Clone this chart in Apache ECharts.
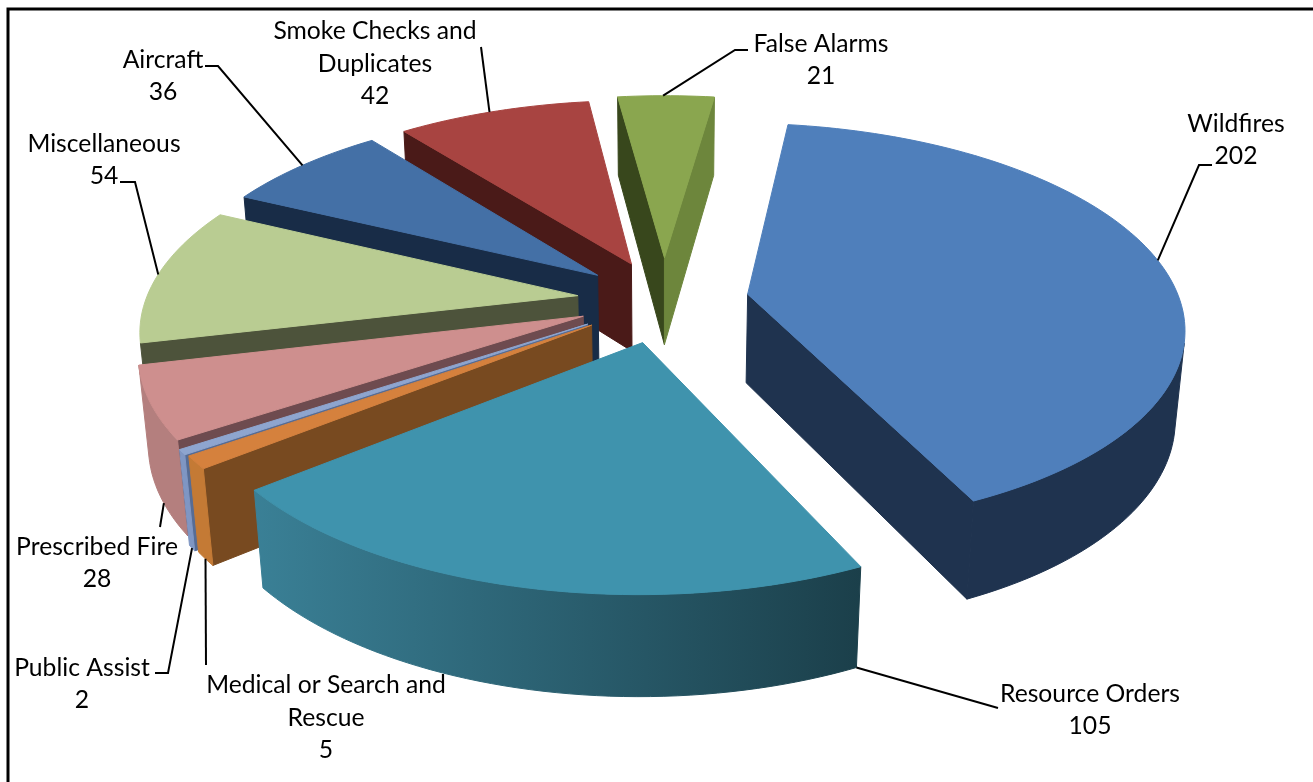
<!DOCTYPE html>
<html><head><meta charset="utf-8">
<style>html,body{margin:0;padding:0;background:#fff}#c{width:1313px;height:782px}</style>
<script src="https://cdn.jsdelivr.net/npm/echarts@6/dist/echarts.min.js"></script>
</head><body><div id="c"></div>
<script>
// clockwise from the False Alarms slice, which straddles 12 o'clock
const categories = ['Wildfires','Resource Orders','Medical or Search and\nRescue','Public Assist','Prescribed Fire','Miscellaneous','Aircraft','Smoke Checks and\nDuplicates','False Alarms'];
const values = [202,105,5,2,28,54,36,42,21];
const explode = [85,92,89,91,87,87,87,87,95];
const drawOrder = [8,7,6,5,4,3,2,0,1];
const colors = [
 {top:'#4f7fbb',a:'#1f334f',b:'#1f334f',o:'#1f334f'},
 {top:'#3f93ad',a:'#1b3f4a',b:'#1b3f4a',o:['#3a8096','#1b3f4a']},
 {top:'#d5813d',a:'#784a20',b:'#784a20',o:'#c47a35'},
 {top:'#8ea5cf',a:'#566c95',b:'#566c95',o:'#7f96c3'},
 {top:'#ce8f8e',a:'#6e4b4f',b:'#6e4b4f',o:'#b47f7e'},
 {top:'#b9cc92',a:'#4d533b',b:'#4d533b',o:'#4d533b'},
 {top:'#4470a6',a:'#182c47',b:'#182c47',o:'#182c47'},
 {top:'#a84441',a:'#4a1a18',b:'#4a1a18',o:'#4a1a18'},
 {top:'#8aa64f',a:'#38471c',b:'#6d863c',o:'#38471c'}
];
// label block centre, leader elbow points, where the leader leaves the slice
const labelLayout = [
 {x:1236,y:140,pts:[[1199,165],[1212,165]],frac:.49,low:false},
 {x:1090,y:710,pts:[[998,708]],frac:.0,low:true},
 {x:326,y:718,pts:[[206,665]],frac:.5,low:true},
 {x:82,y:684,pts:[[168,673],[155,673]],frac:.5,low:true},
 {x:97,y:563,pts:[[160,527]],frac:.42,low:true},
 {x:104,y:160,pts:[[135,182],[120,182]],frac:.5,low:false},
 {x:163,y:76,pts:[[218,66],[205,66]],frac:.5,low:false},
 {x:375,y:64,pts:[[481,47]],frac:.48,low:false},
 {x:821,y:60,pts:[[735,50],[748,50]],frac:.47,low:false}
];
const cam = {R:432,H:102,tilt:27.4,D:2500,cx:664,cy:300,vx:664,start:-7.9};
const font = '24.7px Lato, "Open Sans", sans-serif';

const total = values.reduce((a,b)=>a+b,0);
const ca = Math.cos(cam.tilt*Math.PI/180), sa = Math.sin(cam.tilt*Math.PI/180);
function proj(X,Y,Z){
  const up=Y*ca-Z*sa, dep=Y*sa+Z*ca, s=cam.D/(cam.D-dep);
  return [cam.vx+(X+cam.cx-cam.vx)*s, cam.cy-up*s];
}
const spans=[]; let acc=-cam.start;
values.forEach(v=>{const d=v/total*360; spans.push([acc,acc+d]); acc+=d;});
function pt(i,deg,r,Y){
  const s=spans[i], m=(s[0]+s[1])/2*Math.PI/180, e=explode[i], t=deg*Math.PI/180;
  return proj(Math.sin(m)*e+Math.sin(t)*r, Y, -Math.cos(m)*e-Math.cos(t)*r);
}
function arc(i,Y){
  const [a,b]=spans[i], n=Math.max(4,Math.ceil((b-a)/1.5)), out=[];
  for(let k=0;k<=n;k++) out.push(pt(i,a+(b-a)*k/n,cam.R,Y));
  return out;
}
function area(p){
  let s=0; p.forEach((q,k)=>{const r=p[(k+1)%p.length]; s+=q[0]*r[1]-r[0]*q[1];}); return s/2;
}
function poly(points,fill){
  return {type:'polygon',shape:{points},style:{fill,stroke:fill,lineWidth:1},silent:true};
}
function sliceItem(params,api){
  const i=api.value(1), c=colors[i], [a]=spans[i];
  const top=arc(i,0), low=arc(i,-cam.H);
  const o=pt(i,a,0,0), ol=pt(i,a,0,-cam.H), n=top.length-1;
  const kids=[];
  const qa=[o,top[0],low[0],ol], qb=[o,top[n],low[n],ol];
  if(area(qa)<0) kids.push(poly(qa,c.a));
  if(area(qb)>0) kids.push(poly(qb,c.b));
  let oFill=c.o;
  if(Array.isArray(c.o)) oFill={type:'linear',x:0,y:0,x2:1,y2:0,colorStops:[{offset:0,color:c.o[0]},{offset:1,color:c.o[1]}]};
  // only the wall segments that face the viewer
  let run=[];
  const flush=()=>{ if(run.length){ const u=run.map(k=>top[k]), d=run.map(k=>low[k]).reverse(); kids.push(poly(u.concat(d),oFill)); run=[]; } };
  for(let k=0;k<n;k++){
    const vis=area([top[k],top[k+1],low[k+1],low[k]])<0;
    if(vis){ if(!run.length) run.push(k); run.push(k+1); } else flush();
  }
  flush();
  kids.push(poly([o].concat(top),c.top));
  return {type:'group',children:kids};
}
function labelItem(params,api){
  const i=api.value(1), L=labelLayout[i], [a,b]=spans[i];
  const st=pt(i,a+(b-a)*L.frac,cam.R,L.low?-cam.H:0);
  return {type:'group',children:[
    {type:'polyline',shape:{points:[st].concat(L.pts)},style:{fill:null,stroke:'#000',lineWidth:2},silent:true},
    {type:'text',style:{text:categories[i]+'\n'+api.value(0),x:L.x,y:L.y,align:'center',verticalAlign:'middle',font,lineHeight:32.5,fill:'#000'},silent:true}
  ]};
}
const chart=echarts.init(document.getElementById('c'));
chart.setOption({
  animation:false,backgroundColor:'#fff',
  graphic:[{type:'polyline',shape:{points:[[8,782],[8,9],[1313,9]]},style:{fill:null,stroke:'#000',lineWidth:3}}],
  series:[
   {type:'custom',coordinateSystem:'none',renderItem:sliceItem,z:1,silent:true,data:drawOrder.map(i=>({name:categories[i],value:[values[i],i]}))},
   {type:'custom',coordinateSystem:'none',renderItem:labelItem,z:2,silent:true,data:values.map((v,i)=>({name:categories[i],value:[v,i]}))}
  ]
});
</script></body></html>
